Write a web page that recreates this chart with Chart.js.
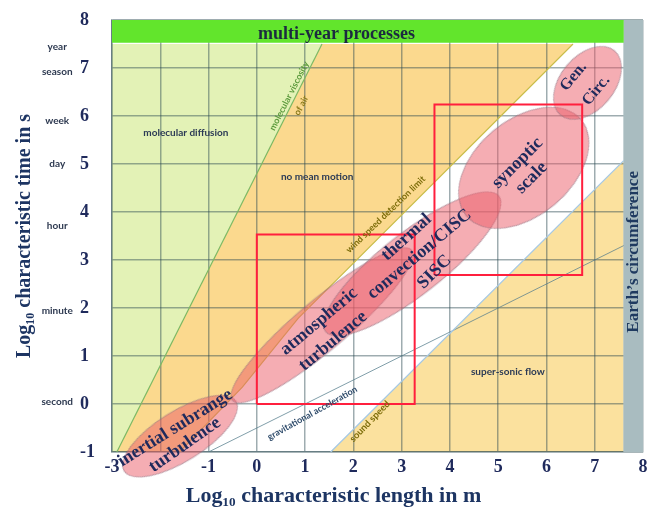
<!DOCTYPE html>
<html>
<head>
<meta charset="utf-8">
<script src="https://cdn.jsdelivr.net/npm/chart.js@4.4.1/dist/chart.umd.min.js"></script>
<style>
  html, body { margin: 0; padding: 0; background: #fff; }
</style>
</head>
<body>
<canvas id="chart" width="648" height="513"></canvas>
<script>
// time units shown next to the log time axis
const timeUnits = ['second', 'minute', 'hour', 'day', 'week', 'season', 'year'];
const timeUnitLog = [0.05, 1.95, 3.72, 5.0, 5.9, 6.92, 7.45];
// x tick hidden under the inertial ellipse in the figure
const hiddenXTicks = [-2];

// boundary lines, log10 length (m) vs log10 time (s)
const viscosityX = [-2.9, 1.35];
const viscosityY = [-1, 7.5];
const windLimitX = [-1.6, -0.3, 0.86, 6.55];
const windLimitY = [-1, 0.35, 1.79, 7.5];
const soundX = [1.53, 7.6];
const soundY = [-1, 5.07];
const gravityX = [-1, 7.6];
const gravityY = [-1, 3.3];

// process scales (centres of the ellipses)
const processNames = ['inertial subrange turbulence', 'atmospheric turbulence', 'thermal convection/CISC', 'synoptic scale', 'Gen. Circ.'];
const processX = [-1.59, 1.35, 3.22, 5.53, 6.85];
const processY = [-0.67, 1.64, 2.92, 4.92, 6.69];

// red boxes
const boxLeft = [0, 3.68];
const boxRight = [3.27, 6.74];
const boxBottom = [0, 2.69];
const boxTop = [3.53, 6.24];

// limits
const xMin = -3, xMax = 8, yMin = -1, yMax = 8;
const earthX = 7.6;       // earth's circumference
const multiYear = 7.53;   // multi-year processes

const pts = (xs, ys) => xs.map((x, i) => ({x: x, y: ys[i]}));
const rev = (a) => a.slice().reverse();

const navy = '#1f2a5c';
const serif = '"Liberation Serif", "Times New Roman", serif';
const sans = 'Lato, "Open Sans", sans-serif';

// ellipse look: semi axes in px and tilt in degrees
const ellipseStyle = [
    {a: 66, b: 25, tilt: 32},
    {a: 117, b: 25, tilt: 40},
    {a: 110, b: 31, tilt: 38},
    {a: 75, b: 48, tilt: 40},
    {a: 42, b: 27, tilt: 50},
];

function ellipseSprite(a, b) {
    const c = document.createElement('canvas');
    c.width = 2 * a + 4;
    c.height = 2 * b + 4;
    const g = c.getContext('2d');
    g.beginPath();
    g.ellipse(a + 2, b + 2, a, b, 0, 0, Math.PI * 2);
    g.fillStyle = 'rgba(236, 92, 104, 0.5)';
    g.fill();
    g.strokeStyle = 'rgba(140, 110, 125, 0.55)';
    g.lineWidth = 1;
    g.stroke();
    return c;
}

const lineSet = (data, color, width) => ({
    data: data,
    showLine: true,
    borderColor: color,
    borderWidth: width,
    pointRadius: 0,
    tension: 0,
    fill: false,
});

const areaSet = (data, color) => ({
    data: data,
    showLine: true,
    borderWidth: 0,
    pointRadius: 0,
    tension: 0,
    backgroundColor: color,
    fill: 'shape',
});

const datasets = [];
// red boxes on top
boxLeft.forEach((l, i) => {
    datasets.push(lineSet(pts([l, boxRight[i], boxRight[i], l, l],
        [boxBottom[i], boxBottom[i], boxTop[i], boxTop[i], boxBottom[i]]), '#ff1f3d', 2));
});
// ellipses
datasets.push({
    data: pts(processX, processY),
    pointStyle: ellipseStyle.map(s => ellipseSprite(s.a, s.b)),
    rotation: ellipseStyle.map(s => -s.tilt),
    pointRadius: 2,
    clip: false,
});
// boundary lines
datasets.push(lineSet(pts(viscosityX, viscosityY), '#7cb862', 1.2));
datasets.push(lineSet(pts(windLimitX, windLimitY), '#c9bd4a', 1.2));
datasets.push(lineSet(pts(soundX, soundY), '#a5c8e4', 1.3));
datasets.push(lineSet(pts(gravityX, gravityY), 'rgba(85,125,140,0.75)', 1));
// multi-year bar and earth band
datasets.push(Object.assign(lineSet(pts([xMin, earthX], [(multiYear + yMax) / 2, (multiYear + yMax) / 2]), '#62e52c', 23), {clip: 0}));
datasets.push(Object.assign(lineSet(pts([(earthX + xMax) / 2, (earthX + xMax) / 2], [yMin, yMax]), '#a9bcc0', 20), {clip: 0}));
// regions (filled before the grid)
datasets.push(areaSet([{x: xMin, y: yMin}].concat(pts(viscosityX, viscosityY), [{x: xMin, y: 7.5}]), '#e3f2b6'));
datasets.push(areaSet(pts(viscosityX, viscosityY).concat(rev(pts(windLimitX, windLimitY))), '#fbd98e'));
datasets.push(areaSet(pts(soundX, soundY).concat([{x: earthX, y: yMin}]), '#fbe19e'));

const notes = [
    {text: 'multi-year processes', x: 1.65, y: 7.7, rot: 0, font: 'bold 18px ' + serif, color: '#1c2a40'},
    {text: 'Earth\u2019s circumference', x: 7.8, y: 3.17, rot: 90, font: 'bold 17px ' + serif, color: '#1f3a60'},
    {text: 'molecular diffusion', x: -1.47, y: 5.64, rot: 0, font: 'bold 10px ' + sans, color: '#2b3a55'},
    {text: 'no mean motion', x: 1.25, y: 4.73, rot: 0, font: 'bold 10px ' + sans, color: '#2b3a55'},
    {text: 'super-sonic flow', x: 5.2, y: 0.68, rot: 0, font: 'bold 10px ' + sans, color: '#2b3a55'},
    {text: 'molecular viscosity', x: 0.67, y: 6.42, rot: 63, font: 'bold 9px ' + sans, color: '#5b9a3c'},
    {text: 'of air', x: 0.92, y: 6.22, rot: 63, font: 'bold 9px ' + sans, color: '#8b7a1a'},
    {text: 'wind speed detection limit', x: 2.67, y: 3.95, rot: 44, font: 'bold 9px ' + sans, color: '#7d6d0a'},
    {text: 'gravitational acceleration', x: 1.15, y: -0.19, rot: 29, font: 'bold 9px ' + sans, color: '#2d4a6a'},
    {text: 'sound speed', x: 2.34, y: -0.36, rot: 46, font: 'bold 9.5px ' + sans, color: '#7d6d0a'},
    {text: 'inertial subrange', x: -1.69, y: -0.5, rot: 32, font: 'bold 18px ' + serif, color: navy},
    {text: 'turbulence', x: -1.49, y: -0.85, rot: 35, font: 'bold 18px ' + serif, color: navy},
    {text: 'atmospheric', x: 1.29, y: 1.72, rot: 40, font: 'bold 18px ' + serif, color: navy},
    {text: 'turbulence', x: 1.58, y: 1.31, rot: 40, font: 'bold 18px ' + serif, color: navy},
    {text: 'thermal', x: 3.1, y: 3.47, rot: 42, font: 'bold 18px ' + serif, color: navy},
    {text: 'convection/CISC', x: 3.37, y: 3.12, rot: 40, font: 'bold 18px ' + serif, color: navy},
    {text: 'SISC', x: 3.68, y: 2.75, rot: 45, font: 'bold 18px ' + serif, color: navy},
    {text: 'synoptic', x: 5.4, y: 5.02, rot: 45, font: 'bold 18px ' + serif, color: navy},
    {text: 'scale', x: 5.69, y: 4.71, rot: 45, font: 'bold 18px ' + serif, color: navy},
    {text: 'Gen.', x: 6.56, y: 6.82, rot: 50, font: 'bold 16px ' + serif, color: navy},
    {text: 'Circ.', x: 7.03, y: 6.53, rot: 50, font: 'bold 16px ' + serif, color: navy},
];

const notesPlugin = {
    id: 'notes',
    afterDatasetsDraw(chart) {
        const {ctx} = chart;
        const xs = chart.scales.x, ys = chart.scales.y;
        notes.forEach(n => {
            ctx.save();
            ctx.translate(xs.getPixelForValue(n.x), ys.getPixelForValue(n.y));
            ctx.rotate(-n.rot * Math.PI / 180);
            ctx.font = n.font;
            ctx.fillStyle = n.color;
            ctx.textAlign = 'center';
            ctx.textBaseline = 'middle';
            ctx.fillText(n.text, 0, 0);
            ctx.restore();
        });
    }
};

const gridColor = 'rgba(40, 70, 80, 0.45)';
const tickFont = {family: serif, size: 18, weight: 'bold'};

new Chart(document.getElementById('chart'), {
    type: 'scatter',
    data: {datasets: datasets},
    plugins: [notesPlugin],
    options: {
        responsive: false,
        animation: false,
        events: [],
        layout: {padding: {left: 0, right: 0, top: 20, bottom: 0}},
        plugins: {
            legend: {display: false},
            tooltip: {enabled: false},
            filler: {drawTime: 'beforeDraw'},
        },
        scales: {
            x: {
                type: 'linear',
                min: xMin,
                max: xMax,
                ticks: {
                    stepSize: 1,
                    font: {family: serif, size: 18, weight: 'bold', lineHeight: 1.7},
                    color: navy,
                    padding: 0,
                    callback: (v) => hiddenXTicks.includes(v) ? '' : v,
                },
                grid: {color: gridColor, lineWidth: 1.5, drawTicks: false},
                border: {color: gridColor, width: 1.5},
                title: {
                    display: true,
                    text: 'Log\u2081\u2080 characteristic length in m                ',
                    font: {family: serif, size: 22, weight: 'bold'},
                    color: '#1d3563',
                    padding: {top: 0, bottom: 3},
                },
                afterFit: (s) => { s.height = 61; },
            },
            y: {
                type: 'linear',
                min: yMin,
                max: yMax,
                weight: 0,
                ticks: {stepSize: 1, font: tickFont, color: navy, padding: 0, crossAlign: 'far'},
                grid: {color: gridColor, lineWidth: 1.5, drawTicks: false},
                border: {color: gridColor, width: 1.5},
                afterFit: (s) => { s.width = 32; },
            },
            units: {
                type: 'linear',
                position: 'left',
                min: yMin,
                max: yMax,
                weight: 1,
                afterBuildTicks: (s) => { s.ticks = timeUnitLog.map(v => ({value: v})); },
                ticks: {
                    autoSkip: false,
                    crossAlign: 'center',
                    padding: 7,
                    font: {family: sans, size: 10, weight: 'bold'},
                    color: '#2d3950',
                    callback: (v, i) => timeUnits[i],
                },
                grid: {display: false, drawTicks: false},
                border: {display: false},
                title: {
                    display: true,
                    text: 'Log\u2081\u2080 characteristic time in s',
                    font: {family: serif, size: 20, weight: 'bold'},
                    color: '#1d3563',
                    padding: {top: 13, bottom: 0},
                },
                afterFit: (s) => { s.width = 80; },
            },
        },
    },
});
</script>
</body>
</html>
